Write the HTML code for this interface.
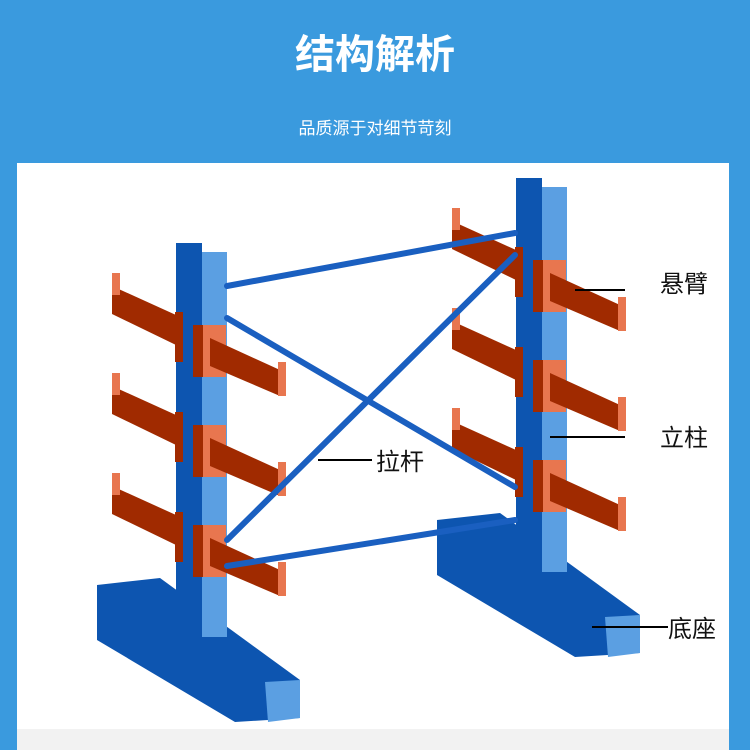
<!DOCTYPE html>
<html><head><meta charset="utf-8"><style>
body{margin:0;width:750px;height:750px;background:#3a9ade;overflow:hidden;position:relative;font-family:"Liberation Sans","Noto Sans CJK SC",sans-serif}
.t{position:absolute;left:0;width:750px;text-align:center;color:#fff}
</style></head><body>
<div class="t" style="top:22px;font-size:40px;font-weight:bold;">结构解析</div>
<div class="t" style="top:114px;font-size:17px;">品质源于对细节苛刻</div>
<svg style="position:absolute;left:0;top:0" width="750" height="750">
<rect x="17" y="163" width="712" height="587" fill="#fff"/>
<rect x="17" y="729" width="712" height="21" fill="#f2f2f2"/>
<defs>
<g id="rack">
 <polygon points="97,585 160,578 300,680 300,718 235,722 97,640" fill="#0d55b0"/>
 <polygon points="265,682 300,680 300,718 268,722" fill="#5b9fe2"/>
 <rect x="176" y="243" width="26" height="380" fill="#0d55b0"/>
 <rect x="202" y="252" width="25" height="385" fill="#5b9fe2"/>
 <g id="lvl">
  <polygon points="112,286 176,315 176,345 112,314" fill="#a02a00"/>
  <rect x="175" y="312" width="8" height="50" fill="#a02a00"/>
  <rect x="112" y="273" width="8" height="22" fill="#e8764f"/>
  <rect x="193" y="325" width="10" height="52" fill="#a02a00"/>
  <rect x="203" y="325" width="23" height="52" fill="#e8764f"/>
  <polygon points="210,338 280,370 280,396 210,366" fill="#a02a00"/>
  <rect x="278" y="362" width="8" height="34" fill="#e8764f"/>
 </g>
 <use href="#lvl" y="100"/>
 <use href="#lvl" y="200"/>
</g>
</defs>
<use href="#rack"/>
<use href="#rack" x="340" y="-65"/>
<g stroke="#1a5fc0" stroke-width="6" stroke-linecap="round">
 <line x1="227" y1="286" x2="515" y2="233"/>
 <line x1="227" y1="566" x2="515" y2="520"/>
 <line x1="227" y1="318" x2="515" y2="487"/>
 <line x1="227" y1="540" x2="515" y2="255"/>
</g>
<g stroke="#000" stroke-width="2">
 <line x1="575" y1="290" x2="625" y2="290"/>
 <line x1="550" y1="437" x2="625" y2="437"/>
 <line x1="318" y1="460" x2="372" y2="460"/>
 <line x1="592" y1="627" x2="668" y2="627"/>
</g>
<g font-size="24" fill="#111" font-family="Liberation Sans,Noto Sans CJK SC,sans-serif">
 <text x="660" y="292">悬臂</text>
 <text x="660" y="446">立柱</text>
 <text x="376" y="470">拉杆</text>
 <text x="668" y="637">底座</text>
</g>
</svg>
</body></html>
